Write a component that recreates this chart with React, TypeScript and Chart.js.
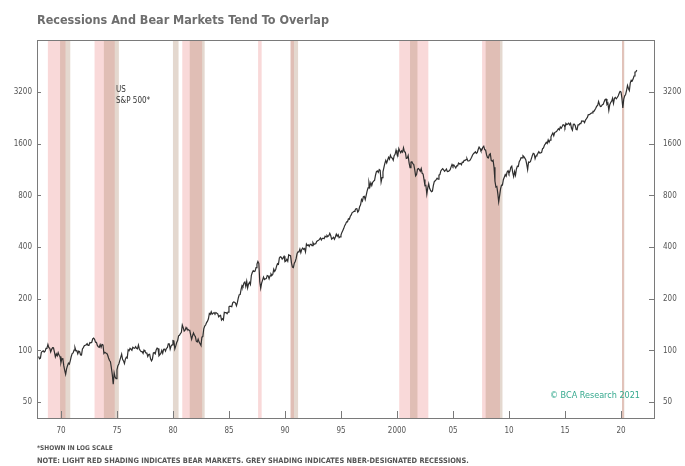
import { useEffect, useRef } from "react";
import { Chart, registerables } from "chart.js";

Chart.register(...registerables);

// S&P 500 month-end closes, starting January 1968
const START_YEAR = 1968;
const spxMonthlyClose: number[] = [
  92.2, 89.4, 90.2, 97.6, 98.7, 99.6, 97.7, 98.9, 102.7, 103.4, 108.4, 103.9,
  103.0, 98.1, 101.5, 103.7, 103.5, 97.7, 91.8, 95.5, 93.1, 97.1, 93.8, 92.1,
  85.0, 89.5, 89.6, 81.5, 76.6, 72.7, 78.1, 81.5, 84.3, 83.3, 87.2, 92.2,
  95.9, 96.8, 100.3, 103.9, 99.6, 99.7, 95.6, 99.0, 98.3, 94.2, 94.0, 102.1,
  103.9, 106.6, 107.2, 107.7, 109.5, 107.1, 107.4, 111.1, 110.6, 111.6, 116.7, 118.1,
  116.0, 111.7, 111.5, 107.0, 105.0, 104.3, 108.2, 104.3, 108.4, 108.3, 96.0, 97.6,
  96.6, 96.2, 94.0, 90.3, 87.3, 86.0, 79.3, 72.2, 63.5, 73.9, 70.0, 68.6,
  77.0, 81.6, 83.4, 87.3, 91.2, 95.2, 88.8, 86.9, 83.9, 89.0, 91.2, 90.2,
  100.9, 99.7, 102.8, 101.6, 100.2, 104.3, 103.4, 102.9, 105.2, 102.9, 102.1, 107.5,
  102.0, 99.8, 98.4, 98.4, 96.1, 100.5, 98.9, 96.8, 96.5, 92.3, 94.8, 95.1,
  89.3, 87.0, 89.2, 96.8, 97.2, 95.5, 100.7, 103.3, 102.5, 93.2, 94.7, 96.1,
  99.9, 96.3, 101.6, 101.8, 99.1, 102.9, 103.8, 109.3, 109.3, 101.8, 106.2, 107.9,
  114.2, 113.7, 102.1, 106.3, 111.2, 114.2, 121.7, 122.4, 125.5, 127.5, 140.5, 135.8,
  129.6, 131.3, 136.0, 132.8, 132.6, 131.2, 130.9, 122.8, 116.2, 121.9, 126.4, 122.6,
  120.4, 113.1, 112.0, 116.4, 111.9, 109.6, 107.1, 119.5, 120.4, 133.7, 138.5, 140.6,
  145.3, 148.1, 153.0, 164.4, 162.4, 168.1, 162.6, 164.4, 166.1, 163.6, 166.4, 164.9,
  163.4, 157.1, 159.2, 160.1, 150.6, 153.2, 150.7, 166.7, 166.1, 166.1, 163.6, 167.2,
  179.6, 181.2, 180.7, 179.8, 189.6, 191.9, 190.9, 188.6, 182.1, 189.8, 202.2, 211.3,
  211.8, 226.9, 238.9, 235.5, 247.4, 250.8, 236.1, 252.9, 231.3, 244.0, 249.2, 242.2,
  274.1, 284.2, 291.7, 288.4, 290.1, 304.0, 318.7, 329.8, 321.8, 251.8, 230.3, 247.1,
  257.1, 267.8, 258.9, 261.3, 262.2, 273.5, 272.0, 261.5, 271.9, 279.0, 273.7, 277.7,
  297.5, 288.9, 294.9, 309.6, 320.5, 318.0, 346.1, 351.5, 349.2, 340.4, 346.0, 353.4,
  329.1, 331.9, 339.9, 330.8, 361.2, 358.0, 356.2, 322.6, 306.1, 304.0, 322.2, 330.2,
  343.9, 367.1, 375.2, 375.4, 389.8, 371.2, 387.8, 395.4, 387.9, 392.5, 375.2, 417.1,
  408.8, 412.7, 403.7, 415.0, 415.4, 408.1, 424.2, 414.0, 417.8, 418.7, 431.4, 435.7,
  438.8, 443.4, 451.7, 440.2, 450.2, 450.5, 448.1, 463.6, 458.9, 467.8, 461.8, 466.5,
  481.6, 467.1, 445.8, 450.9, 456.5, 444.3, 458.3, 475.5, 462.7, 472.4, 453.7, 459.3,
  470.4, 487.4, 500.7, 514.7, 533.4, 544.8, 562.1, 561.9, 584.4, 581.5, 605.4, 615.9,
  636.0, 640.4, 645.5, 654.2, 669.1, 670.6, 640.0, 652.0, 687.3, 705.3, 757.0, 740.7,
  786.2, 790.8, 757.1, 801.3, 848.3, 885.1, 954.3, 899.5, 947.3, 914.6, 955.4, 970.4,
  980.3, 1049.3, 1101.8, 1111.8, 1090.8, 1133.8, 1120.7, 957.3, 1017.0, 1098.7, 1163.6, 1229.2,
  1279.6, 1238.3, 1286.4, 1335.2, 1301.8, 1372.7, 1328.7, 1320.4, 1282.7, 1362.9, 1388.9, 1469.3,
  1394.5, 1366.4, 1498.6, 1452.4, 1420.6, 1454.6, 1430.8, 1517.7, 1436.5, 1429.4, 1315.0, 1320.3,
  1366.0, 1239.9, 1160.3, 1249.5, 1255.8, 1224.4, 1211.2, 1133.6, 1040.9, 1059.8, 1139.5, 1148.1,
  1130.2, 1106.7, 1147.4, 1076.9, 1067.1, 989.8, 911.6, 916.1, 815.3, 885.8, 936.3, 879.8,
  855.7, 841.2, 848.2, 916.9, 963.6, 974.5, 990.3, 1008.0, 996.0, 1050.7, 1058.2, 1111.9,
  1131.1, 1144.9, 1126.2, 1107.3, 1120.7, 1140.8, 1101.7, 1104.2, 1114.6, 1130.2, 1173.8, 1211.9,
  1181.3, 1203.6, 1180.6, 1156.9, 1191.5, 1191.3, 1234.2, 1220.3, 1228.8, 1207.0, 1249.5, 1248.3,
  1280.1, 1280.7, 1294.8, 1310.6, 1270.1, 1270.2, 1276.7, 1303.8, 1335.9, 1377.9, 1400.6, 1418.3,
  1438.2, 1406.8, 1420.9, 1482.4, 1530.6, 1503.4, 1455.3, 1474.0, 1526.8, 1549.4, 1481.1, 1468.4,
  1378.6, 1330.6, 1322.7, 1385.6, 1400.4, 1280.0, 1267.4, 1282.8, 1166.4, 968.8, 896.2, 903.3,
  825.9, 735.1, 797.9, 872.8, 919.1, 919.3, 987.5, 1020.6, 1057.1, 1036.2, 1095.6, 1115.1,
  1073.9, 1104.5, 1169.4, 1186.7, 1089.4, 1030.7, 1101.6, 1049.3, 1141.2, 1183.3, 1180.6, 1257.6,
  1286.1, 1327.2, 1325.8, 1363.6, 1345.2, 1320.6, 1292.3, 1218.9, 1131.4, 1253.3, 1247.0, 1257.6,
  1312.4, 1365.7, 1408.5, 1397.9, 1310.3, 1362.2, 1379.3, 1406.6, 1440.7, 1412.2, 1416.2, 1426.2,
  1498.1, 1514.7, 1569.2, 1597.6, 1630.7, 1606.3, 1685.7, 1633.0, 1681.6, 1756.5, 1805.8, 1848.4,
  1782.6, 1859.5, 1872.3, 1884.0, 1923.6, 1960.2, 1930.7, 2003.4, 1972.3, 2018.1, 2067.6, 2058.9,
  1995.0, 2104.5, 2067.9, 2085.5, 2107.4, 2063.1, 2103.8, 1972.2, 1920.0, 2079.4, 2080.4, 2043.9,
  1940.2, 1932.2, 2059.7, 2065.3, 2097.0, 2098.9, 2173.6, 2171.0, 2168.3, 2126.2, 2198.8, 2238.8,
  2278.9, 2363.6, 2362.7, 2384.2, 2411.8, 2423.4, 2470.3, 2471.7, 2519.4, 2575.3, 2647.6, 2673.6,
  2823.8, 2713.8, 2640.9, 2648.1, 2705.3, 2718.4, 2816.3, 2901.5, 2914.0, 2711.7, 2760.2, 2506.9,
  2704.1, 2784.5, 2834.4, 2945.8, 2752.1, 2941.8, 2980.4, 2926.5, 2976.7, 3037.6, 3141.0, 3230.8,
  3225.5, 2954.2, 2584.6, 2912.4, 3044.3, 3100.3, 3271.1, 3500.3, 3363.0, 3270.0, 3621.6, 3756.1,
  3714.2, 3811.2, 3972.9, 4181.2, 4204.1, 4297.5,
];

// Bear markets (light red) and NBER recessions (grey), as [start, end] in decimal years
const bearMarkets: [number, number][] = [
  [1968.83, 1970.4],
  [1973.0, 1974.8],
  [1980.83, 1982.6],
  [1987.6, 1987.92],
  [1990.5, 1990.8],
  [2000.2, 2002.8],
  [2007.6, 2009.2],
  [2020.1, 2020.25],
];
const recessions: [number, number][] = [
  [1969.92, 1970.83],
  [1973.83, 1975.17],
  [1980.0, 1980.5],
  [1981.5, 1982.83],
  [1990.5, 1991.17],
  [2001.17, 2001.83],
  [2007.92, 2009.42],
  [2020.1, 2020.3],
];

const yTickValues = [50, 100, 200, 400, 800, 1600, 3200];
const xTickYears = [1970, 1975, 1980, 1985, 1990, 1995, 2000, 2005, 2010, 2015, 2020];
const xTickLabels = ["70", "75", "80", "85", "90", "95", "2000", "05", "10", "15", "20"];

const X_MIN = 1967.86;
const X_MAX = 2022.95;
const Y_MIN = 40.4;
const Y_MAX = 6440;

const NARROW = '"Liberation Sans Narrow", "DejaVu Sans Condensed", "Liberation Sans", sans-serif';

const decorations = {
  id: "decorations",
  beforeDatasetsDraw(chart: any) {
    const { ctx, chartArea } = chart;
    const xs = chart.scales.x;
    const h = chartArea.bottom - chartArea.top;
    ctx.save();
    ctx.fillStyle = "rgba(235, 120, 120, 0.28)";
    for (const [a, b] of bearMarkets) {
      const x0 = xs.getPixelForValue(a);
      const x1 = xs.getPixelForValue(b);
      ctx.fillRect(x0, chartArea.top, Math.max(x1 - x0, 1.5), h);
    }
    ctx.fillStyle = "rgba(165, 125, 95, 0.3)";
    for (const [a, b] of recessions) {
      const x0 = xs.getPixelForValue(a);
      const x1 = xs.getPixelForValue(b);
      ctx.fillRect(x0, chartArea.top, Math.max(x1 - x0, 1.5), h);
    }
    ctx.restore();
  },
  afterDraw(chart: any) {
    const { ctx, chartArea } = chart;
    const { left, right, top, bottom } = chartArea;
    const xs = chart.scales.x;
    const yl = chart.scales.y;
    ctx.save();
    // frame
    ctx.strokeStyle = "#7a7a7a";
    ctx.lineWidth = 1;
    ctx.strokeRect(Math.round(left) + 0.5, Math.round(top) + 0.5, Math.round(right - left), Math.round(bottom - top));
    // inner tick marks
    ctx.beginPath();
    for (const v of yTickValues) {
      const y = Math.round(yl.getPixelForValue(v)) + 0.5;
      ctx.moveTo(left, y);
      ctx.lineTo(left + 4, y);
      ctx.moveTo(right, y);
      ctx.lineTo(right - 5, y);
    }
    for (const yr of xTickYears) {
      const x = Math.round(xs.getPixelForValue(yr)) + 0.5;
      ctx.moveTo(x, bottom);
      ctx.lineTo(x, bottom - 7);
    }
    ctx.stroke();

    // title
    ctx.fillStyle = "#6e6e6e";
    ctx.textBaseline = "alphabetic";
    ctx.textAlign = "left";
    ctx.font = `bold 12.5px ${NARROW}`;
    ctx.fillText("Recessions And Bear Markets Tend To Overlap", 37, 24);

    // series label
    ctx.fillStyle = "#333333";
    ctx.font = `8px ${NARROW}`;
    ctx.fillText("US", 116, 92);
    ctx.fillText("S&P 500*", 116, 103);

    // source
    ctx.fillStyle = "#35a98e";
    ctx.font = `9px ${NARROW}`;
    ctx.textAlign = "right";
    ctx.fillText("© BCA Research 2021", 640, 398);

    // footnotes
    ctx.textAlign = "left";
    ctx.fillStyle = "#555555";
    ctx.font = `bold 6.5px ${NARROW}`;
    ctx.fillText("*SHOWN IN LOG SCALE", 37, 450);
    ctx.font = `bold 7.4px ${NARROW}`;
    ctx.fillText(
      "NOTE: LIGHT RED SHADING INDICATES BEAR MARKETS. GREY SHADING INDICATES NBER-DESIGNATED RECESSIONS.",
      37,
      463
    );
    ctx.restore();
  },
};

export default function App() {
  const canvasRef = useRef<HTMLCanvasElement | null>(null);

  useEffect(() => {
    if (!canvasRef.current) return;
    const points = spxMonthlyClose.map((v, i) => ({ x: START_YEAR + i / 12, y: v }));
    const tickFont = { family: NARROW, size: 8 };
    const setYTicks = (s: any) => {
      s.ticks = yTickValues.map((v) => ({ value: v }));
    };
    const noGrid = { display: false, drawTicks: false, tickLength: 0 };
    const chart = new Chart(canvasRef.current, {
      type: "line",
      data: {
        datasets: [
          {
            data: points,
            borderColor: "#2e2e2e",
            borderWidth: 1.2,
            pointRadius: 0,
            tension: 0,
            yAxisID: "y",
          },
        ],
      },
      options: {
        animation: false,
        responsive: false,
        devicePixelRatio: 1,
        layout: { padding: { top: 40, left: 0, right: 0, bottom: 0 } },
        plugins: {
          legend: { display: false },
          tooltip: { enabled: false },
          title: { display: false },
        },
        scales: {
          x: {
            type: "linear",
            min: X_MIN,
            max: X_MAX,
            grid: noGrid,
            border: { display: false },
            afterBuildTicks: (s: any) => {
              s.ticks = xTickYears.map((v) => ({ value: v }));
            },
            afterFit: (s: any) => {
              s.height = 48;
            },
            ticks: {
              autoSkip: false,
              maxRotation: 0,
              padding: 8,
              color: "#555555",
              font: tickFont,
              callback: (v: any) => {
                const i = xTickYears.indexOf(Number(v));
                return i >= 0 ? xTickLabels[i] : "";
              },
            },
          },
          y: {
            type: "logarithmic",
            position: "left",
            min: Y_MIN,
            max: Y_MAX,
            grid: noGrid,
            border: { display: false },
            afterBuildTicks: setYTicks,
            afterFit: (s: any) => {
              s.width = 37;
            },
            ticks: {
              autoSkip: false,
              padding: 5,
              color: "#555555",
              font: tickFont,
              callback: (v: any) => String(v),
            },
          },
          y2: {
            type: "logarithmic",
            position: "right",
            min: Y_MIN,
            max: Y_MAX,
            grid: noGrid,
            border: { display: false },
            afterBuildTicks: setYTicks,
            afterFit: (s: any) => {
              s.width = 31;
            },
            ticks: {
              autoSkip: false,
              padding: 9,
              color: "#555555",
              font: tickFont,
              callback: (v: any) => String(v),
            },
          },
        },
      },
      plugins: [decorations],
    });
    return () => chart.destroy();
  }, []);

  return (
    <div style={{ position: "absolute", left: 0, top: 0, width: 685, height: 466, background: "#ffffff" }}>
      <canvas ref={canvasRef} width={685} height={466} style={{ display: "block", width: 685, height: 466 }} />
    </div>
  );
}
